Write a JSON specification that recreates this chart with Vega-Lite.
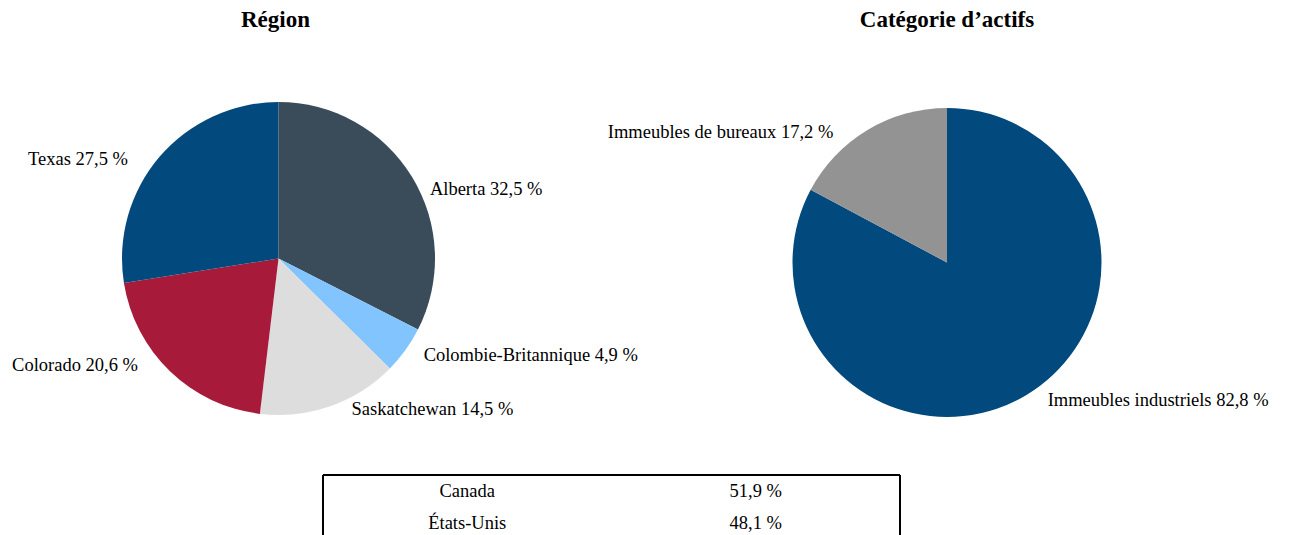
{
  "$schema": "https://vega.github.io/schema/vega-lite/v6.json",
  "width": 1291,
  "height": 535,
  "padding": 0,
  "autosize": {"type": "none"},
  "config": {
    "view": {"stroke": null},
    "font": "Liberation Serif",
    "text": {"font": "Liberation Serif", "color": "black"}
  },
  "datasets": {
    "region": [
      {"region": "Alberta", "part": 32.5, "rang": 1, "etiquette": "Alberta 32,5 %"},
      {"region": "Colombie-Britannique", "part": 4.9, "rang": 2, "etiquette": "Colombie-Britannique 4,9 %"},
      {"region": "Saskatchewan", "part": 14.5, "rang": 3, "etiquette": "Saskatchewan 14,5 %"},
      {"region": "Colorado", "part": 20.6, "rang": 4, "etiquette": "Colorado 20,6 %"},
      {"region": "Texas", "part": 27.5, "rang": 5, "etiquette": "Texas 27,5 %"}
    ],
    "categorie": [
      {"region": "Immeubles industriels", "part": 82.8, "rang": 1, "etiquette": "Immeubles industriels 82,8 %"},
      {"region": "Immeubles de bureaux", "part": 17.2, "rang": 2, "etiquette": "Immeubles de bureaux 17,2 %"}
    ],
    "pays": [
      {"pays": "Canada", "part": "51,9 %"},
      {"pays": "États-Unis", "part": "48,1 %"}
    ],
    "titres": [
      {"graphique": "Région", "titre": "Région"},
      {"graphique": "Catégorie", "titre": "Catégorie d’actifs"}
    ]
  },
  "resolve": {"scale": {"x": "independent", "y": "independent"}},
  "layer": [
    {
      "data": {"name": "region"},
      "encoding": {
        "x": {"datum": "Région", "type": "nominal", "axis": null,
              "scale": {"type": "point", "domain": ["Région"], "padding": 0.5, "align": 0.21573, "round": false}},
        "y": {"datum": "disque", "type": "nominal", "axis": null,
              "scale": {"type": "point", "domain": ["titre", "disque"], "padding": 0.65551, "align": 0.088962, "round": false}}
      },
      "layer": [
        {
          "mark": {"type": "arc", "outerRadius": 156.5},
          "encoding": {
            "theta": {"field": "part", "type": "quantitative", "stack": true},
            "order": {"field": "rang", "type": "quantitative"},
            "color": {"field": "region", "type": "nominal", "legend": null,
              "scale": {"domain": ["Alberta", "Colombie-Britannique", "Saskatchewan", "Colorado", "Texas", "Immeubles industriels", "Immeubles de bureaux"],
                        "range": ["#3a4b59", "#82c4fd", "#dddddd", "#a81a3a", "#02497d", "#02497d", "#939393"]}}
          }
        },
        {
          "mark": {"type": "text", "radius": 150, "fontSize": 18.5, "baseline": "middle",
            "align": {"expr": "datum.part_start + datum.part_end < 100 ? 'left' : 'right'"},
            "dx": {"expr": "datum.part_start + datum.part_end < 100 ? 23.5 : -36.5"},
            "dy": {"expr": "datum.part_start + datum.part_end < 100 ? 9 : -2"}},
          "encoding": {
            "theta": {"field": "part", "type": "quantitative", "stack": true},
            "order": {"field": "rang", "type": "quantitative"},
            "text": {"field": "etiquette"},
            "color": {"value": "black"}
          }
        },
        {
          "data": {"name": "titres"},
          "transform": [{"filter": "datum.graphique == 'Région'"}],
          "mark": {"type": "text", "fontSize": 23, "fontWeight": "bold", "baseline": "alphabetic", "dx": -3},
          "encoding": {
            "y": {"datum": "titre", "type": "nominal", "axis": null},
            "text": {"field": "titre"},
            "color": {"value": "black"}
          }
        }
      ]
    },
    {
      "data": {"name": "categorie"},
      "encoding": {
        "x": {"datum": "Catégorie", "type": "nominal", "axis": null,
              "scale": {"type": "point", "domain": ["Catégorie"], "padding": 0.5, "align": 0.73354, "round": false}},
        "y": {"datum": "disque", "type": "nominal", "axis": null,
              "scale": {"type": "point", "domain": ["titre", "disque"], "padding": 0.63588, "align": 0.09015, "round": false}}
      },
      "layer": [
        {
          "mark": {"type": "arc", "outerRadius": 154.5},
          "encoding": {
            "theta": {"field": "part", "type": "quantitative", "stack": true},
            "order": {"field": "rang", "type": "quantitative"},
            "color": {"field": "region", "type": "nominal", "legend": null,
              "scale": {"domain": ["Alberta", "Colombie-Britannique", "Saskatchewan", "Colorado", "Texas", "Immeubles industriels", "Immeubles de bureaux"],
                        "range": ["#3a4b59", "#82c4fd", "#dddddd", "#a81a3a", "#02497d", "#02497d", "#939393"]}}
          }
        },
        {
          "mark": {"type": "text", "radius": 150, "fontSize": 18.5, "baseline": "middle",
            "align": {"expr": "datum.part_start + datum.part_end < 100 ? 'left' : 'right'"},
            "dx": {"expr": "datum.part_start + datum.part_end < 100 ? 23.5 : -36.5"},
            "dy": {"expr": "datum.part_start + datum.part_end < 100 ? 9 : -2"}},
          "encoding": {
            "theta": {"field": "part", "type": "quantitative", "stack": true},
            "order": {"field": "rang", "type": "quantitative"},
            "text": {"field": "etiquette"},
            "color": {"value": "black"}
          }
        },
        {
          "data": {"name": "titres"},
          "transform": [{"filter": "datum.graphique == 'Catégorie'"}],
          "mark": {"type": "text", "fontSize": 23, "fontWeight": "bold", "baseline": "alphabetic"},
          "encoding": {
            "y": {"datum": "titre", "type": "nominal", "axis": null},
            "text": {"field": "titre"},
            "color": {"value": "black"}
          }
        }
      ]
    },
    {
      "data": {"name": "pays"},
      "encoding": {
        "y": {"field": "pays", "type": "nominal", "sort": null, "axis": null,
              "scale": {"type": "band", "domain": ["Canada", "États-Unis"], "paddingInner": 0, "paddingOuter": 0, "rangeMin": 475, "rangeMax": 539, "round": false}}
      },
      "layer": [
        {
          "mark": {"type": "text", "fontSize": 18.5},
          "encoding": {
            "x": {"datum": "Pays", "type": "nominal", "axis": null,
                  "scale": {"type": "band", "domain": ["Pays", "Part"], "paddingInner": 0, "paddingOuter": 0, "rangeMin": 323, "rangeMax": 900, "round": false}},
            "text": {"field": "pays"},
            "color": {"value": "black"}
          }
        },
        {
          "mark": {"type": "text", "fontSize": 18.5},
          "encoding": {
            "x": {"datum": "Part", "type": "nominal", "axis": null},
            "text": {"field": "part"},
            "color": {"value": "black"}
          }
        },
        {
          "data": {"values": [{}]},
          "mark": {"type": "rule", "strokeWidth": 2, "color": "black"},
          "encoding": {
            "x": {"datum": "Pays", "type": "nominal", "bandPosition": 0, "axis": null},
            "y": {"datum": "Canada", "type": "nominal", "bandPosition": 0, "axis": null},
            "y2": {"datum": "États-Unis", "bandPosition": 1}
          }
        },
        {
          "data": {"values": [{}]},
          "mark": {"type": "rule", "strokeWidth": 2, "color": "black"},
          "encoding": {
            "x": {"datum": "Part", "type": "nominal", "bandPosition": 1, "axis": null},
            "y": {"datum": "Canada", "type": "nominal", "bandPosition": 0, "axis": null},
            "y2": {"datum": "États-Unis", "bandPosition": 1}
          }
        },
        {
          "data": {"values": [{}]},
          "mark": {"type": "rule", "strokeWidth": 2, "color": "black"},
          "encoding": {
            "x": {"datum": "Pays", "type": "nominal", "bandPosition": 0, "axis": null},
            "x2": {"datum": "Part", "bandPosition": 1},
            "y": {"datum": "Canada", "type": "nominal", "bandPosition": 0, "axis": null}
          }
        }
      ]
    }
  ]
}
